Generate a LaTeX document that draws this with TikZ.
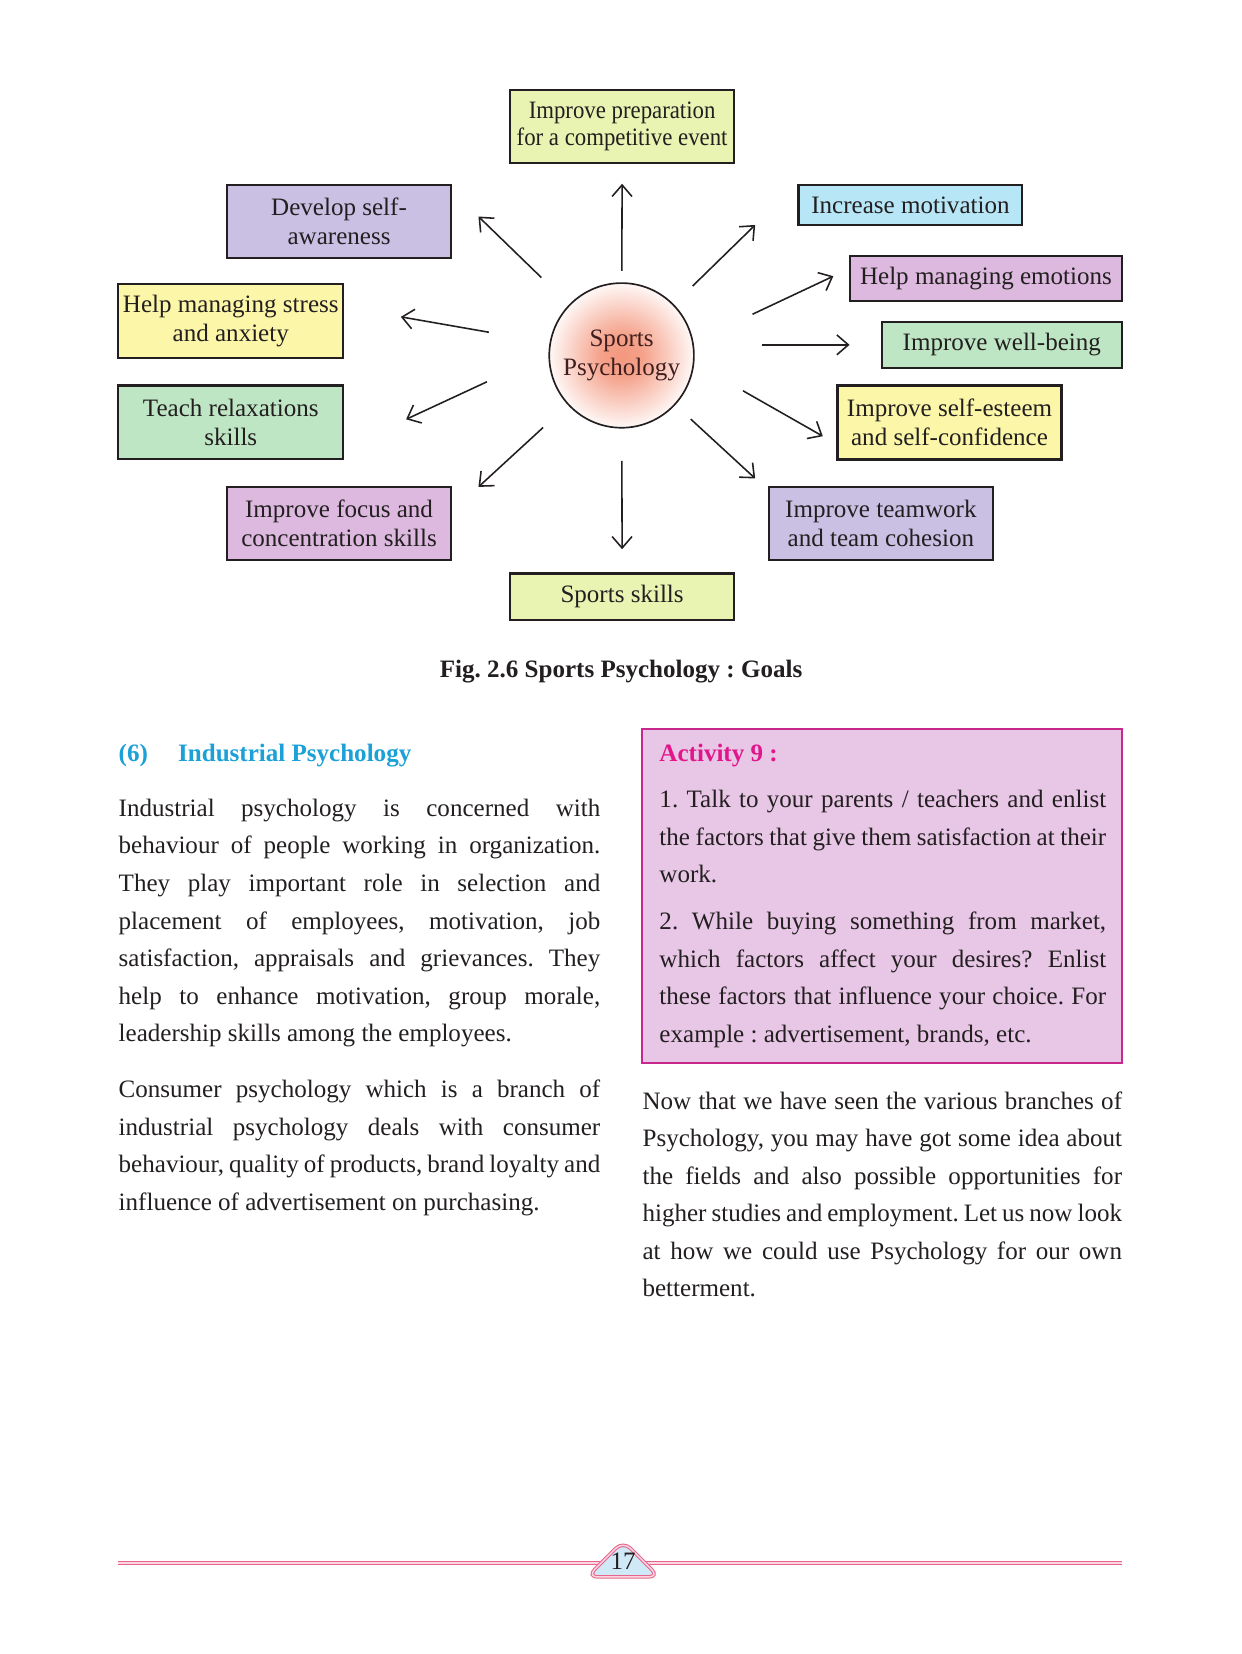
\documentclass[tikz,border=0pt]{standalone}
\usepackage{fontspec}
\setmainfont{Liberation Serif}
\newfontfamily\narrowserif[FakeStretch=0.91]{Liberation Serif}
\usetikzlibrary{arrows.meta}
\definecolor{inkgray}{HTML}{231F20}
\definecolor{limebox}{HTML}{E9F4B2}
\definecolor{lilacbox}{HTML}{C9C0E4}
\definecolor{skybox}{HTML}{B7E6F6}
\definecolor{pinkbox}{HTML}{DDB9E0}
\definecolor{mintbox}{HTML}{BEE6C4}
\definecolor{lemonbox}{HTML}{FBF6A8}
\definecolor{salmon}{HTML}{F4987F}
\definecolor{maroontext}{HTML}{3E1E1E}
\definecolor{headblue}{HTML}{1BA0D7}
\definecolor{actframe}{HTML}{C8288C}
\definecolor{actfill}{HTML}{E8C6E6}
\definecolor{acttitle}{HTML}{E2168A}
\definecolor{footpink}{HTML}{E8648C}
\definecolor{footblue}{HTML}{CFE9F7}
\pgfdeclareradialshading{spglow}{\pgfpoint{0bp}{0bp}}{color(0bp)=(salmon); color(7bp)=(salmon!92); color(25bp)=(salmon!7); color(50bp)=(salmon!7)}
\frenchspacing
\tolerance=10000
\hbadness=10000
\hyphenpenalty=10000
\begin{document}
\begin{tikzpicture}
  [x=0.506pt,y=-0.506pt,
   every node/.style={text=inkgray,font=\fontsize{12}{14}\selectfont},
   goal/.style={draw=inkgray,line width=1pt,rectangle,align=center,inner sep=2pt,
     minimum width=107.3pt,minimum height=34.9pt,font=\fontsize{12}{13.6}\selectfont},
   goalarrow/.style={draw=inkgray,line width=0.75pt,-{Straight Barb[length=5.5pt,width=9.5pt]}},
   bodytext/.style={anchor=north west,inner sep=0pt,font=\fontsize{12}{18}\selectfont}]
  \useasboundingbox[fill=white] (0,0) rectangle (1175,1566);

  % goals round the centre
  \node[goal,fill=limebox,font=\fontsize{12}{13.2}\narrowserif] (prep) at (589,119.5) {Improve preparation\\for a competitive event};
  \node[goal,fill=lilacbox] (aware) at (321,209.5) {Develop self-\\awareness};
  \node[goal,fill=skybox,minimum height=19pt] (motiv) at (862,194) {Increase motivation};
  \node[goal,fill=pinkbox,minimum width=130pt,minimum height=21.8pt] (emot) at (933.5,263.5) {Help managing emotions};
  \node[goal,fill=mintbox,minimum width=114.9pt,minimum height=21.8pt] (well) at (948.5,326.5) {Improve well-being};
  \node[goal,fill=lemonbox,minimum width=107.8pt,minimum height=35.4pt] (stress) at (218.5,304) {Help managing stress\\and anxiety};
  \node[goal,fill=mintbox,minimum width=107.8pt,minimum height=35.4pt] (relax) at (218.5,400) {Teach relaxations\\skills};
  \node[goal,fill=lemonbox,line width=1.4pt,minimum height=35.4pt] (esteem) at (899,400) {Improve self-esteem\\and self-confidence};
  \node[goal,fill=pinkbox] (focus) at (321,495.5) {Improve focus and\\concentration skills};
  \node[goal,fill=lilacbox] (team) at (834,495.5) {Improve teamwork\\and team cohesion};
  \node[goal,fill=limebox,minimum height=22.3pt] (skills) at (589,565) {Sports skills};

  \node[circle,draw=inkgray,line width=0.8pt,minimum size=69.3pt,inner sep=0pt,
        shading=spglow,align=center,text=maroontext,
        font=\fontsize{12}{14}\selectfont] (sp) at (588.5,336.5) {Sports\\Psychology};

  \coordinate (tprep) at (589,174);
  \coordinate (taware) at (453,205);
  \coordinate (tmotiv) at (715,213);
  \coordinate (tteam) at (715,453);
  \coordinate (tskills) at (589,520);
  \coordinate (tfocus) at (453,461);
  \coordinate (tstress) at (379.5,300);
  \coordinate (semot) at (712.5,297.5);
  \coordinate (temot) at (789,261.5);
  \coordinate (sesteem) at (703.5,370);
  \coordinate (testeem) at (779,413);
  \coordinate (srelax) at (461,361.5);
  \coordinate (trelax) at (384.5,397);

  \foreach \tip/\gap in {tprep/5.5pt,taware/18.5pt,tmotiv/12.5pt,tteam/10pt,tskills/15.5pt,tfocus/16pt,tstress/29.5pt}
    \draw[goalarrow,shorten <=\gap] (sp) -- (\tip);
  \foreach \from/\to in {semot/temot,sesteem/testeem,srelax/trelax}
    \draw[goalarrow] (\from) -- (\to);
  \draw[goalarrow,shorten <=32pt,shorten >=15pt] (sp.east |- well.west) -- (well.west);

  \node[font=\fontsize{12}{14}\selectfont\bfseries] (cap) at (588,636) {Fig. 2.6 Sports Psychology : Goals};

  % left column
  \node[anchor=north west,inner sep=0pt,text=headblue,font=\fontsize{12}{14}\selectfont\bfseries] (head) at (112,704) {(6)\hspace{14.5pt}Industrial Psychology};
  \node[bodytext] (indus) at (112,756) {\parbox[t]{230.7pt}{Industrial psychology is concerned with\linebreak
    behaviour of people working in organization.\linebreak
    They play important role in selection and\linebreak
    placement of employees, motivation, job\linebreak
    satisfaction, appraisals and grievances. They\linebreak
    help to enhance motivation, group morale,\linebreak
    leadership skills among the employees.}};
  \node[bodytext] (consumer) at (112,1022) {\parbox[t]{230.7pt}{Consumer psychology which is a branch of\linebreak
    industrial psychology deals with consumer\linebreak
    behaviour, quality of products, brand loyalty and\linebreak
    influence of advertisement on purchasing.}};

  % right column
  \draw[draw=actframe,fill=actfill,line width=1pt] (608,690) rectangle (1062,1006);
  \node[anchor=north west,inner sep=0pt,text=acttitle,font=\fontsize{12}{14}\selectfont\bfseries] (acttitle) at (624,704) {Activity 9 :};
  \node[bodytext] (item1) at (624,748) {\parbox[t]{214pt}{1. Talk to your parents / teachers and enlist\linebreak
    the factors that give them satisfaction at their\linebreak
    work.}};
  \node[bodytext] (item2) at (624,863) {\parbox[t]{214pt}{2. While buying something from market,\linebreak
    which factors affect your desires? Enlist\linebreak
    these factors that influence your choice. For\linebreak
    example : advertisement, brands, etc.}};
  \node[bodytext] (outro) at (608,1033) {\parbox[t]{229.7pt}{Now that we have seen the various branches of\linebreak
    Psychology, you may have got some idea about\linebreak
    the fields and also possible opportunities for\linebreak
    higher studies and employment. Let us now look\linebreak
    at how we could use Psychology for our own\linebreak
    betterment.}};

  % page foot
  \draw[footpink,line width=0.5pt,double=footpink!25,double distance=0.7pt] (112,1480) -- (1062,1480);
  \draw[footpink,line width=0.5pt,double=footpink!25,double distance=0.7pt,fill=footblue,rounded corners=5pt]
    (556,1493) -- (590,1459) -- (624,1493) -- cycle;
  \node (pgno) at (590,1478) {17};
\end{tikzpicture}
\end{document}
